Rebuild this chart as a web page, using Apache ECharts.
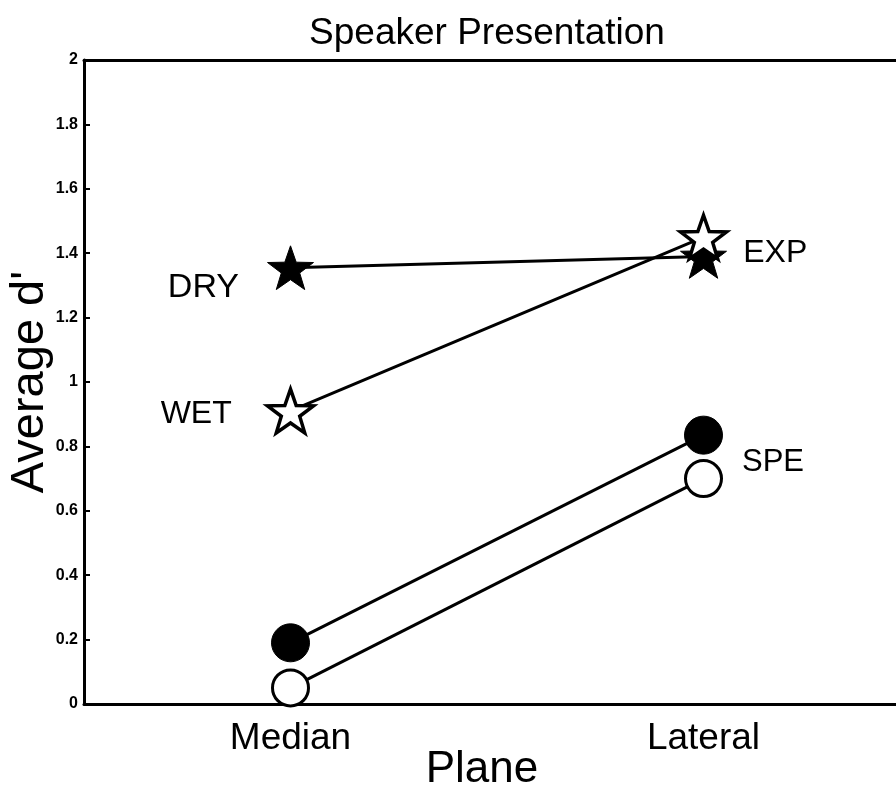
<!DOCTYPE html>
<html>
<head>
<meta charset="utf-8">
<script src="https://cdn.jsdelivr.net/npm/echarts@6/dist/echarts.min.js"></script>
<style>
  html, body { margin: 0; padding: 0; background: #fff; }
  #chart { width: 896px; height: 790px; }
</style>
</head>
<body>
<div id="chart"></div>
<script>
const planes = ['Median', 'Lateral']
// average d' per plane
const dryVals = [1.355, 1.39]       // filled star
const wetVals = [0.91, 1.45]        // open star
const speFilled = [0.19, 0.835]     // filled circle
const speOpen = [0.05, 0.70]        // open circle

const FONT = '"Liberation Sans", Arial, sans-serif'

// five-point star path (pentagram, as in matlab)
function starPath() {
  const pts = []
  for (let i = 0; i < 10; i++) {
    const r = i % 2 === 0 ? 50 : 20
    const a = -Math.PI / 2 + i * Math.PI / 5
    pts.push((50 + r * Math.cos(a)).toFixed(2) + ',' + (50 + r * Math.sin(a)).toFixed(2))
  }
  return 'path://M' + pts.join('L') + 'Z'
}
const STAR = starPath()

const lineStyle = { color: '#000', width: 3 }
const labelText = { color: '#000', fontFamily: FONT, fontSize: 34 }

const chart = echarts.init(document.getElementById('chart'))
chart.setOption({
  animation: false,
  backgroundColor: '#fff',
  title: {
    text: 'Speaker Presentation',
    left: 482, top: 10, textAlign: 'center',
    textStyle: { color: '#000', fontFamily: FONT, fontSize: 37, fontWeight: 'normal' }
  },
  grid: { left: 84, top: 60, width: 826, height: 644, containLabel: false, outerBoundsMode: 'none' },
  xAxis: [
    {
      type: 'category', data: planes, position: 'bottom',
      name: 'Plane', nameLocation: 'middle', nameGap: 44, nameMoveOverlap: false,
      nameTextStyle: { color: '#000', fontFamily: FONT, fontSize: 44, padding: [0, 30, 0, 0] },
      axisLine: { lineStyle: { color: '#000', width: 3 } },
      axisTick: { inside: true, alignWithLabel: true, length: 6, lineStyle: { color: '#000', width: 2 } },
      axisLabel: { color: '#000', fontFamily: FONT, fontSize: 37, margin: 16 },
      splitLine: { show: false }
    },
    {
      type: 'category', data: planes, position: 'top',
      axisLine: { lineStyle: { color: '#000', width: 3 } },
      axisTick: { inside: true, alignWithLabel: true, length: 6, lineStyle: { color: '#000', width: 2 } },
      axisLabel: { show: false },
      splitLine: { show: false }
    }
  ],
  yAxis: {
    type: 'value', min: 0, max: 2, interval: 0.2,
    name: "Average d'", nameLocation: 'middle', nameGap: 30, nameMoveOverlap: false,
    nameTextStyle: { color: '#000', fontFamily: FONT, fontSize: 47 },
    axisLine: { show: true, lineStyle: { color: '#000', width: 3 } },
    axisTick: { show: true, inside: true, length: 6, lineStyle: { color: '#000', width: 2 } },
    axisLabel: { color: '#000', fontFamily: FONT, fontSize: 16, fontWeight: 'bold', margin: 6 },
    splitLine: { show: false }
  },
  series: [
    {
      name: 'DRY', type: 'line', data: [
        { value: dryVals[0], label: { show: true, formatter: 'DRY', position: 'left', distance: 28, offset: [0, 20], ...labelText } },
        dryVals[1]
      ],
      symbol: STAR, symbolSize: 46, symbolKeepAspect: true,
      lineStyle, itemStyle: { color: '#000', borderColor: '#000', borderWidth: 1 }, z: 3
    },
    {
      name: 'WET', type: 'line', data: [
        { value: wetVals[0], label: { show: true, formatter: 'WET', position: 'left', distance: 34, offset: [0, 3], ...labelText, fontSize: 32 } },
        { value: wetVals[1], label: { show: true, formatter: 'EXP', position: 'right', distance: 15, offset: [0, 16], ...labelText, fontSize: 32 } }
      ],
      symbol: STAR, symbolSize: 46, symbolKeepAspect: true,
      lineStyle, itemStyle: { color: '#fff', borderColor: '#000', borderWidth: 3.5 }, z: 4
    },
    {
      name: 'SPE filled', type: 'line', data: [
        speFilled[0],
        { value: speFilled[1], label: { show: true, formatter: 'SPE', position: 'right', distance: 19, offset: [0, 27], ...labelText, fontSize: 31 } }
      ],
      symbol: 'circle', symbolSize: 38,
      lineStyle, itemStyle: { color: '#000', borderColor: '#000', borderWidth: 1 }, z: 3
    },
    {
      name: 'SPE open', type: 'line', data: speOpen,
      symbol: 'circle', symbolSize: 36,
      lineStyle, itemStyle: { color: '#fff', borderColor: '#000', borderWidth: 3 }, z: 4
    }
  ]
})
</script>
</body>
</html>
